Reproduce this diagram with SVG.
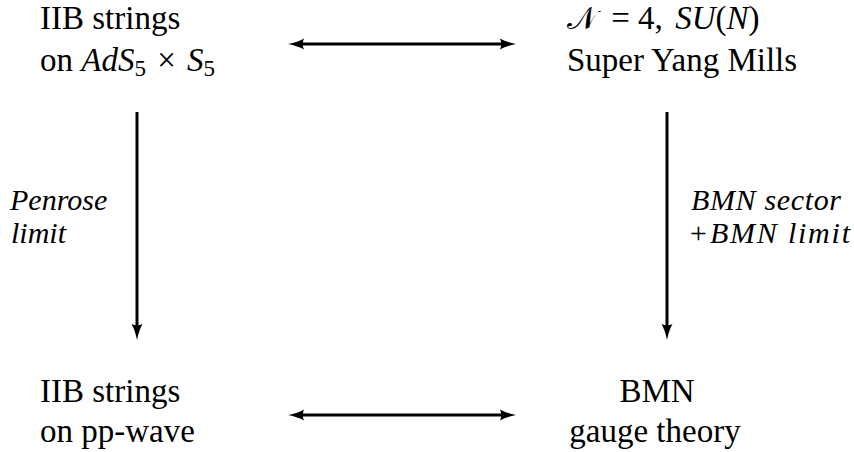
<svg xmlns="http://www.w3.org/2000/svg" width="854" height="452" viewBox="0 0 854 452">
  <style>
    .t { font-family: "Liberation Serif", "Times New Roman", serif; font-size: 33px; fill: #000; }
    .lab { font-family: "Liberation Serif", "Times New Roman", serif; font-size: 30px; font-style: italic; fill: #000; }
    .i { font-style: italic; }
    .sub { font-size: 23px; }
    .cal { font-family: "DejaVu Serif", "Noto Sans", serif; font-size: 31px; }
    .edge { stroke: #000; stroke-width: 3; fill: none; marker-end: url(#ah); }
    .both { marker-start: url(#ah); }
  </style>
  <defs>
    <marker id="ah" viewBox="0 -6 16 12" refX="4" refY="0" markerWidth="16" markerHeight="12" markerUnits="userSpaceOnUse" orient="auto-start-reverse">
      <path d="M0,-5.5 Q6,-2 16,0 Q6,2 0,5.5 Q2.5,0 0,-5.5 Z" fill="#000"/>
    </marker>
  </defs>
  <rect width="854" height="452" fill="#fff"/>

  <g id="connectors">
    <line class="edge both" x1="300" y1="44" x2="504" y2="44"/>
    <line class="edge both" x1="300" y1="415" x2="504" y2="415"/>
    <line class="edge" x1="137" y1="112" x2="137" y2="328"/>
    <line class="edge" x1="667" y1="112" x2="667" y2="328"/>
  </g>

  <g id="ads-strings">
    <text class="t" x="40" y="29">IIB strings</text>
    <text class="t" x="40" y="71">on <tspan class="i">AdS</tspan><tspan class="sub" dy="5">5</tspan><tspan dy="-5" dx="3"> × </tspan><tspan class="i" dx="3">S</tspan><tspan class="sub" dy="5">5</tspan></text>
  </g>

  <g id="sym">
    <text class="t" x="567" y="29"><tspan class="cal">𝒩</tspan><tspan dx="6"> = 4, </tspan><tspan class="i" dx="4">SU</tspan>(<tspan class="i">N</tspan>)</text>
    <text class="t" x="567" y="71">Super Yang Mills</text>
  </g>

  <g id="pp-strings">
    <text class="t" x="40" y="402">IIB strings</text>
    <text class="t" x="40" y="442">on pp-wave</text>
  </g>

  <g id="bmn">
    <text class="t" x="657" y="402" text-anchor="middle">BMN</text>
    <text class="t" x="655" y="442" text-anchor="middle">gauge theory</text>
  </g>

  <g id="label-penrose">
    <text class="lab" x="10" y="210">Penrose</text>
    <text class="lab" x="11" y="243">limit</text>
  </g>

  <g id="label-bmn">
    <text class="lab" x="691" y="210" textLength="150" lengthAdjust="spacing">BMN sector</text>
    <text class="lab" x="688" y="243" textLength="162" lengthAdjust="spacing">+BMN limit</text>
  </g>
</svg>
